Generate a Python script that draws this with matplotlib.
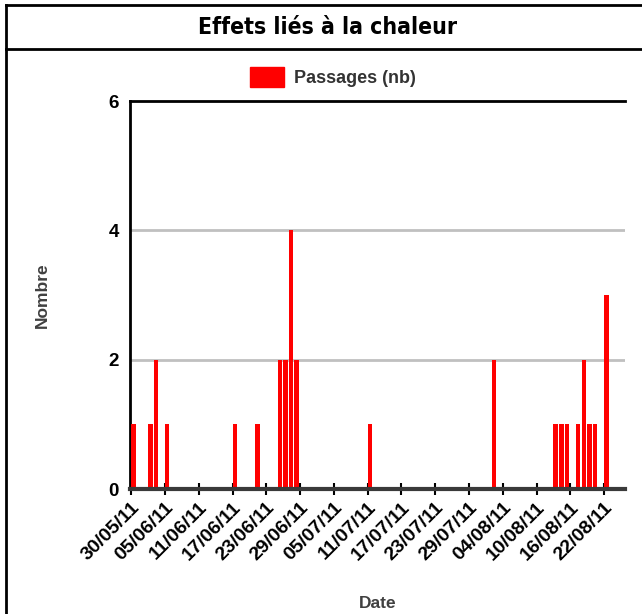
import matplotlib
matplotlib.use('Agg')
import matplotlib.pyplot as plt
from matplotlib.lines import Line2D
from matplotlib.patches import Patch
import pandas as pd

# Data
dates = ['30/05/11', '02/06/11', '03/06/11', '05/06/11', '17/06/11', '21/06/11',
         '25/06/11', '26/06/11', '27/06/11', '28/06/11', '11/07/11', '02/08/11',
         '13/08/11', '14/08/11', '15/08/11', '17/08/11', '18/08/11', '19/08/11',
         '20/08/11', '22/08/11']
passages = [1, 1, 2, 1, 1, 1, 2, 2, 4, 2, 1, 2, 1, 1, 1, 1, 2, 1, 1, 3]
tick_labels = ['30/05/11', '05/06/11', '11/06/11', '17/06/11', '23/06/11', '29/06/11',
               '05/07/11', '11/07/11', '17/07/11', '23/07/11', '29/07/11', '04/08/11',
               '10/08/11', '16/08/11', '22/08/11']
y_ticks = [0, 2, 4, 6]

plt.rcParams['font.family'] = ['Liberation Sans', 'DejaVu Sans']

x = pd.to_datetime(dates, format='%d/%m/%y')
xt = pd.to_datetime(tick_labels, format='%d/%m/%y')

fig = plt.figure(figsize=(6.42, 6.14), dpi=100)
W, H = 642, 614
ax = fig.add_axes([130 / W, 1 - 489 / H, 495 / W, 388 / H])

ax.bar(x, passages, width=0.8, align='edge', color='#ff0000', zorder=3)

ax.set_xlim(pd.Timestamp('2011-05-29 19:00'), pd.Timestamp('2011-08-25 17:00'))
ax.set_ylim(0, 6)
ax.set_yticks(y_ticks)
ax.set_yticklabels([str(v) for v in y_ticks], fontsize=13.5, fontweight='bold')
ax.set_xticks(xt)
ax.set_xticklabels(tick_labels, rotation=45, ha='right', va='top',
                   rotation_mode='anchor', fontsize=14, fontweight='bold')

ax.tick_params(axis='y', length=0, pad=8)
ax.tick_params(axis='x', direction='inout', length=8, width=1.5, color='black', pad=3)

for v in [2, 4]:
    ax.axhline(v, color='#c0c0c0', lw=2, zorder=1)

ax.spines['right'].set_visible(False)
ax.spines['left'].set_linewidth(2)
ax.spines['left'].set_color('black')
ax.spines['top'].set_linewidth(2)
ax.spines['top'].set_color('black')
ax.spines['bottom'].set_linewidth(3)
ax.spines['bottom'].set_color('#3a3a3a')
ax.spines['bottom'].set_zorder(4)

ax.set_ylabel('Nombre', fontsize=12.5, fontweight='bold', color='#404040')
ax.yaxis.set_label_coords(-80 / 495, 0.5)
ax.set_xlabel('Date', fontsize=12.5, fontweight='bold', color='#404040')
ax.xaxis.set_label_coords(0.5, -107 / 388)

# legend
leg = fig.legend(handles=[Patch(color='#ff0000', label='Passages (nb)')],
                 loc='center', bbox_to_anchor=(333 / W, 1 - 77 / H), frameon=False,
                 handlelength=1.9, handleheight=1.3, handletextpad=0.55,
                 prop={'weight': 'bold', 'size': 13})
for t in leg.get_texts():
    t.set_color('#333333')

# title box and frame
fig.text(328 / W, 1 - 27 / H, 'Effets liés à la chaleur', ha='center', va='center',
         fontsize=16.5, fontweight='bold', family='DejaVu Sans',
         fontstretch='condensed')
fig.add_artist(Line2D([6 / W, 6 / W], [0, 1 - 5 / H], color='black', lw=2))
fig.add_artist(Line2D([6 / W, 1], [1 - 5 / H, 1 - 5 / H], color='black', lw=2))
fig.add_artist(Line2D([6 / W, 1], [1 - 49 / H, 1 - 49 / H], color='black', lw=2))

fig.savefig('out.png', dpi=100)
